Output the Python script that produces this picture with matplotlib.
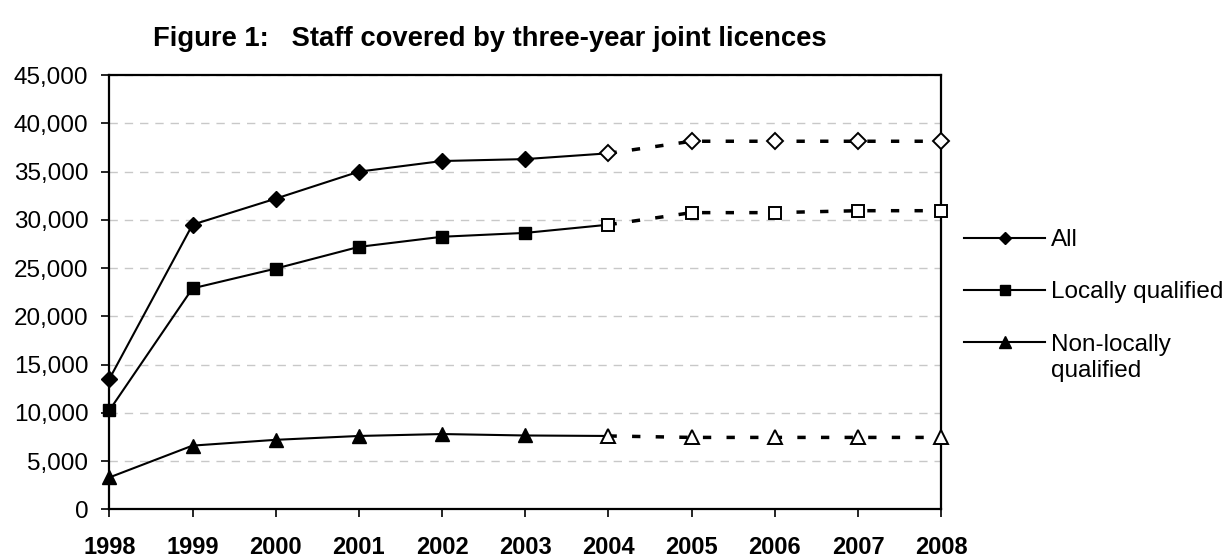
import matplotlib
matplotlib.use("Agg")
import matplotlib.pyplot as plt
from matplotlib.lines import Line2D

years = [1998, 1999, 2000, 2001, 2002, 2003, 2004, 2005, 2006, 2007, 2008]
all_staff = [13500, 29500, 32200, 35000, 36100, 36300, 36900, 38150, 38150, 38150, 38150]
local_staff = [10250, 22900, 24950, 27200, 28250, 28650, 29500, 30750, 30750, 30950, 30950]
nonlocal_staff = [3300, 6600, 7200, 7600, 7800, 7650, 7600, 7450, 7450, 7450, 7450]
labels = ["All", "Locally qualified", "Non-locally"]
label_extra = "qualified"
markers = ["D", "s", "^"]
msizes = [8.2, 8.2, 10.0]
leg_msizes = [6.6, 7.2, 8.0]
split = 6  # index of 2004: actual data up to here, projection afterwards

yticks = list(range(0, 45001, 5000))

plt.rcParams['font.family'] = ['Liberation Sans', 'DejaVu Sans']

fig = plt.figure(figsize=(12.27, 5.58), dpi=100)
ax = fig.add_axes([0.0891, 0.0873, 0.678, 0.778])

for vals, m, ms in zip([all_staff, local_staff, nonlocal_staff], markers, msizes):
    ax.plot(years[:split + 1], vals[:split + 1], color='black', lw=1.5, zorder=3,
            clip_on=False)
    ax.plot(years[:split], vals[:split], linestyle='none', marker=m, ms=ms,
            mfc='black', mec='black', zorder=4, clip_on=False)
    ax.plot(years[split:], vals[split:], color='black', lw=2.5,
            linestyle=(0, (2.4, 4.4)), zorder=3, clip_on=False)
    ax.plot(years[split:], vals[split:], linestyle='none', marker=m, ms=ms,
            mfc='white', mec='black', mew=1.4, zorder=4, clip_on=False)

ax.set_xlim(years[0], years[-1])
ax.set_ylim(0, 45000)
ax.set_xticks(years)
ax.set_xticklabels([str(y) for y in years], fontsize=17, fontweight='bold')
ax.set_yticks(yticks)
ax.set_yticklabels([f"{v:,}" for v in yticks], fontsize=17.5)
ax.tick_params(axis='x', direction='out', length=6, width=1.2, pad=13, colors='black')
ax.tick_params(axis='y', direction='out', length=6, width=1.2, pad=9, colors='black')
for s in ax.spines.values():
    s.set_linewidth(1.6)
    s.set_color('black')
ax.yaxis.grid(True, color='#c8c8c8', linestyle=(0, (6, 5)), linewidth=1)
ax.set_axisbelow(True)

handles = [Line2D([0], [0], color='black', lw=1.5, marker=m, ms=ms,
                  mfc='black', mec='black') for m, ms in zip(markers, leg_msizes)]
leg = fig.legend(handles, labels, loc='upper left', bbox_to_anchor=(0.786, 0.5896),
                 frameon=False, fontsize=17.5, handlelength=3.33, handletextpad=0.25,
                 labelspacing=1.25, borderpad=0, borderaxespad=0)

fig.canvas.draw()
t = leg.get_texts()[-1]
bb = t.get_window_extent().transformed(fig.transFigure.inverted())
fig.text(bb.x0, bb.y0 - 0.008, label_extra, ha='left', va='top', fontsize=17.5)

fig.text(0.399, 0.93, "Figure 1:   Staff covered by three-year joint licences",
         ha='center', va='center', fontsize=19.7, fontweight='bold')

fig.savefig("out.png", dpi=100)
